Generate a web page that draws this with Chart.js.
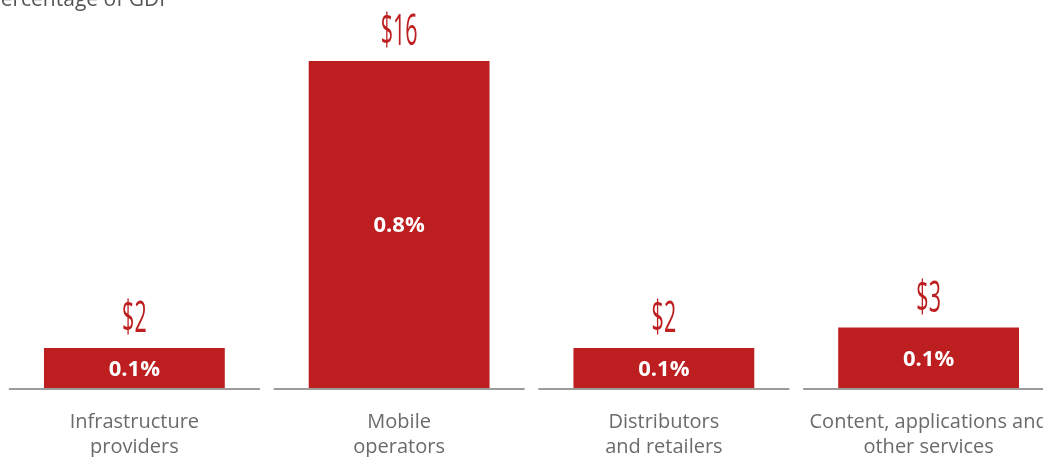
<!DOCTYPE html>
<html>
<head>
<meta charset="utf-8">
<script src="https://cdn.jsdelivr.net/npm/chart.js@4"></script>
<style>
  html, body { margin: 0; padding: 0; background: #fff; overflow: hidden; }
  #wrap { position: absolute; left: 2px; top: 0; width: 1059px; height: 457px; }
</style>
</head>
<body>
<div id="wrap"><canvas id="myChart"></canvas></div>
<script>
// data (US$ billions, share of GDP)
const categories = [
  ["Infrastructure", "providers"],
  ["Mobile", "operators"],
  ["Distributors", "and retailers"],
  ["Content, applications and", "other services"],
];
const dollarValues = [2, 16, 2, 3];
const dollarLabels = ["$2", "$16", "$2", "$3"];
const gdpLabels = ["0.1%", "0.8%", "0.1%", "0.1%"];
const chartTitle = "Percentage of GDP";

const red = "#bd1e1f";
const grey = "#6b6b6b";

// baseline segments, labels and title drawn on top of the bars
const decorations = {
  id: "decorations",
  afterDatasetsDraw(chart) {
    const { ctx, scales } = chart;
    const x = scales.x, y = scales.y;
    const zero = y.getPixelForValue(0);
    const meta = chart.getDatasetMeta(0);
    ctx.save();

    // separated baseline under each category
    ctx.strokeStyle = "#9b9b9b";
    ctx.lineWidth = 2;
    categories.forEach((c, i) => {
      const cx = x.getPixelForValue(i);
      ctx.beginPath();
      ctx.moveTo(cx - 125.5, zero);
      ctx.lineTo(cx + 125.5, zero);
      ctx.stroke();
    });

    meta.data.forEach((bar, i) => {
      // dollar value above bar, condensed
      ctx.save();
      ctx.translate(bar.x, bar.y - 16);
      ctx.scale(0.5, 1);
      ctx.fillStyle = red;
      ctx.font = "400 43px 'Open Sans'";
      ctx.textAlign = "center";
      ctx.textBaseline = "alphabetic";
      ctx.fillText(dollarLabels[i], 0, 0);
      ctx.restore();

      // share of GDP inside bar
      ctx.fillStyle = "#fff";
      ctx.font = "bold 22px 'Open Sans'";
      ctx.textAlign = "center";
      ctx.textBaseline = "middle";
      ctx.fillText(gdpLabels[i], bar.x, (bar.y + zero) / 2 + 1);
    });

    // category labels
    ctx.fillStyle = grey;
    ctx.font = "20px 'Open Sans'";
    ctx.textAlign = "center";
    ctx.textBaseline = "middle";
    categories.forEach((lines, i) => {
      const cx = x.getPixelForValue(i);
      lines.forEach((line, j) => {
        ctx.fillText(line, cx, zero + 33 + j * 25);
      });
    });

    // title, cut off at the top left
    ctx.fillStyle = "#555";
    ctx.font = "21px 'Open Sans'";
    ctx.textAlign = "left";
    ctx.textBaseline = "alphabetic";
    ctx.fillText(chartTitle, -14, 6);

    ctx.restore();
  },
};

const ctx = document.getElementById("myChart").getContext("2d");

new Chart(ctx, {
  type: "bar",
  data: {
    labels: categories,
    datasets: [
      {
        data: dollarValues,
        backgroundColor: red,
        borderWidth: 0,
        barPercentage: 0.683,
        categoryPercentage: 1,
      },
    ],
  },
  options: {
    responsive: true,
    maintainAspectRatio: false,
    animation: false,
    events: [],
    layout: { padding: { top: 20, bottom: 68, left: 0, right: 0 } },
    plugins: {
      legend: { display: false },
      tooltip: { enabled: false },
    },
    scales: {
      x: { display: false },
      y: { display: false, min: 0, max: 18 },
    },
  },
  plugins: [decorations],
});
</script>
</body>
</html>
